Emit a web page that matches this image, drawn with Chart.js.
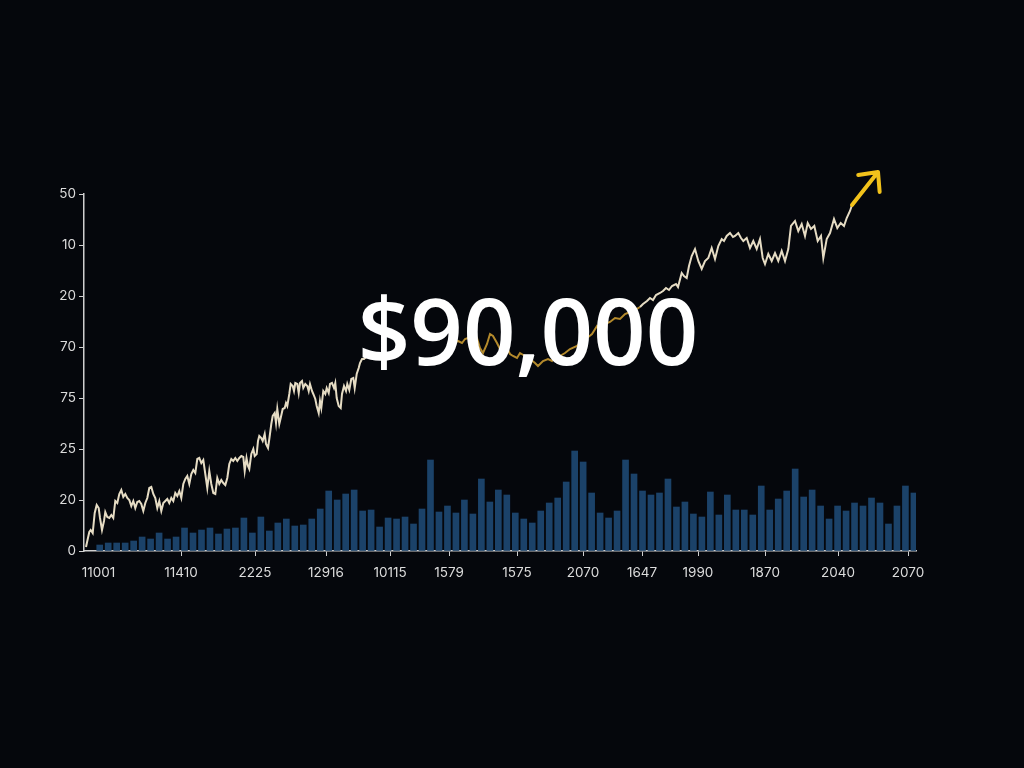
<!DOCTYPE html>
<html>
<head>
<meta charset="utf-8">
<script src="https://cdn.jsdelivr.net/npm/chart.js@4"></script>
<style>
  html, body { margin: 0; padding: 0; background: #05070c; }
  #wrap { width: 1024px; height: 768px; }
</style>
</head>
<body>
<div id="wrap"><canvas id="priceChart" width="1024" height="768"></canvas></div>
<script>
// axis labels as printed on the picture
const yTickLabels = ['0', '20', '25', '75', '70', '20', '10', '50'];
const xTickValues = [14.5, 97, 171, 242, 306, 365, 433, 499, 558, 614, 681, 754, 824];
const xTickLabels = ['11001', '11410', '2225', '12916', '10115', '1579', '1575', '2070', '1647', '1990', '1870', '2040', '2070'];

// volume bars, one per bar slot
const barValues = [
  6, 8, 8, 8, 10, 14, 12, 18, 12, 14, 23, 18, 21, 23, 17, 22, 23, 33, 18, 34,
  20, 28, 32, 25, 26, 32, 42, 60, 51, 57, 61, 40, 41, 24, 33, 32, 34, 27, 42, 91,
  39, 45, 38, 51, 37, 72, 49, 61, 56, 38, 32, 28, 40, 48, 53, 69, 100, 89, 58, 38,
  33, 40, 91, 77, 60, 56, 58, 72, 44, 49, 37, 34, 59, 36, 56, 41, 41, 36, 65, 41,
  52, 60, 82, 54, 61, 45, 32, 45, 40, 48, 45, 53, 48, 27, 45, 65, 58
];

// price line (time, price); null = hidden behind the headline
const lineX = [
  2, 3.3, 5.3, 6.7, 8.7, 10.7, 12.7, 14.7, 16, 18, 20, 21.3, 23.3, 25.3, 27.3, 29.3, 31.3, 33.3, 35.3, 37.3,
  39.3, 41.3, 43.3, 45.3, 47.3, 49.3, 51.3, 53.3, 55.3, 57.3, 59.3, 61.3, 63.3, 65.3, 67.3, 69.3, 71.3, 73.3, 75.3, 77.3,
  79.3, 81.3, 83.3, 85.3, 87.3, 89.3, 91.3, 93.3, 95.3, 97.3, 99.3, 101.3, 103.3, 105.3, 107.3, 109.3, 111.3, 113.3, 115.3, 117.3,
  119.3, 121.3, 123.3, 125.3, 127.3, 129.3, 131.3, 133.3, 135.3, 137.3, 139.3, 141.3, 143.3, 145.3, 147.3, 149.3, 151.3, 153.3, 155.3, 157.3,
  159.3, 160.7, 162.5, 164, 165.3, 167.3, 169.3, 170.7, 172.7, 174, 175.3, 177.3, 178.7, 180.7, 182, 184, 185.3, 187.3, 188.7, 190.7,
  192, 193.3, 195.3, 196.7, 198.7, 200.7, 202, 203.3, 205.3, 206.7, 208.7, 210, 211.3, 213.3, 214.7, 216, 218, 219.3, 221.3, 223.3,
  224.7, 226, 228, 229.3, 231.3, 232.7, 234.7, 236, 237.3, 239.3, 241.3, 242.7, 244.7, 246, 248, 250, 251.3, 252.7, 254.7, 256.7,
  258, 260, 262, 263.3, 265.3, 267.3, 269.3, 270.7, 272.7, 274.7, 276, 278, 280, 282, 325,
  369, 374, 378, 381, 384, 388, 391, 393, 396, 399, 403, 406, 409, 413, 416, 419, 423, 426, 429, 433,
  436, 441, 446, 451, 454, 459, 464, 468, 471, 476, 481, 486, 493, 498, 503, 508, 513, 516, 521, 526,
  531, 536, 541, 546, 551, 556, 559, 563, 566, 569, 572, 576, 579, 582, 585, 588, 592, 594, 597.7, 600,
  602.7, 605, 607.7, 611, 614.3, 617.7, 621, 624.3, 627.7, 631, 634.3, 637.7, 640, 642.7, 646, 649, 651, 654.3, 657, 659.3,
  662.7, 666, 669.3, 672.7, 676, 678.7, 681, 684.3, 687.7, 691, 694.3, 697.7, 701, 704.3, 707, 711, 714.3, 717.7, 721, 723.7,
  727, 730.3, 733.7, 737, 739.3, 742.7, 746, 750, 753.3, 756.7, 760, 762.7, 766, 768
];
const lineY = [
  4, 10, 19, 21, 18, 38, 46, 43, 33, 21, 30, 39, 34, 33, 36, 33, 50, 48, 57, 61,
  54, 57, 53, 51, 45, 50, 43, 49, 50, 47, 40, 48, 53, 63, 64, 57, 53, 43, 50, 40,
  48, 50, 52, 48, 53, 50, 58, 55, 60, 53, 67, 72, 75, 67, 77, 81, 78, 92, 93, 88,
  91, 77, 63, 80, 67, 58, 57, 73, 67, 71, 68, 66, 73, 87, 92, 90, 93, 90, 93, 95,
  94, 80, 93, 85, 82, 97, 102, 95, 97, 110, 115, 113, 110, 117, 107, 103, 112, 127, 135, 138,
  128, 142, 127, 133, 142, 143, 148, 145, 157, 167, 165, 160, 168, 167, 158, 168, 170, 163, 167, 165,
  160, 167, 160, 157, 152, 145, 138, 150, 143, 160, 157, 163, 158, 167, 168, 163, 168, 153, 145, 143,
  157, 165, 160, 167, 161, 172, 173, 163, 177, 183, 188, 192, 192, 194, null,
  207, 210, 208, 212, 213, 208, 217, 213, 203, 198, 207, 217, 215, 208, 202, 210, 203, 197, 195, 193,
  198, 195, 192, 188, 185, 190, 192, 190, 195, 195, 198, 202, 205, 210, 213, 217, 225, 221, 227, 229,
  233, 232, 237, 239, 241, 244, 247, 250, 253, 251, 256, 258, 260, 263, 261, 265, 267, 264, 278, 275,
  273, 285, 295, 302, 290, 282, 290, 293, 303, 292, 305, 312, 310, 315, 318, 314, 315, 318, 313, 310,
  313, 303, 310, 302, 312, 293, 287, 297, 290, 298, 290, 300, 290, 302, 325, 330, 320, 327, 315, 328,
  322, 325, 310, 315, 293, 312, 318, 332, 323, 328, 325, 333, 340, 346
];

// the part of the line that runs behind the headline is drawn in amber
const amberFrom = 360;
const amberTo = 557;

const headlinePlugin = {
  id: 'headline',
  afterDatasetsDraw(chart) {
    const c = chart.ctx;
    const meta = chart.getDatasetMeta(0);
    const last = meta.data[meta.data.length - 1];
    // arrow continuing the trend
    const x0 = last.x, y0 = last.y;
    const x1 = x0 + 26, y1 = y0 - 33;
    const ang = Math.atan2(y1 - y0, x1 - x0);
    c.save();
    c.strokeStyle = '#f2c21b';
    c.lineWidth = 4;
    c.lineCap = 'round';
    c.lineJoin = 'round';
    c.beginPath();
    c.moveTo(x0, y0);
    c.lineTo(x1, y1);
    c.moveTo(x1 + 20 * Math.cos(ang + Math.PI - 0.75), y1 + 20 * Math.sin(ang + Math.PI - 0.75));
    c.lineTo(x1, y1);
    c.lineTo(x1 + 20 * Math.cos(ang + Math.PI + 0.75), y1 + 20 * Math.sin(ang + Math.PI + 0.75));
    c.stroke();
    // big price
    c.fillStyle = '#ffffff';
    c.font = '600 92px "Open Sans", sans-serif';
    c.textAlign = 'center';
    c.textBaseline = 'alphabetic';
    c.fillText('$90,000', 528, 365);
    c.restore();
  }
};

const axisColor = '#cfcfcf';
const labelFont = { family: 'Inter, "DejaVu Sans", sans-serif', size: 13.5 };

const ctx = document.getElementById('priceChart').getContext('2d');
const chart = new Chart(ctx, {
  type: 'bar',
  data: {
    datasets: [{
      type: 'line',
      data: lineX.map((x, i) => ({ x: x, y: lineY[i] })),
      xAxisID: 'x',
      yAxisID: 'y',
      borderColor: '#e6dcc4',
      borderWidth: 2,
      pointRadius: 0,
      tension: 0,
      spanGaps: false,
      order: 1,
      segment: {
        borderColor: s => (s.p0.parsed.x >= amberFrom && s.p1.parsed.x <= amberTo) ? '#b48a2c' : undefined
      }
    }, {
      type: 'bar',
      data: barValues.map((v, i) => ({ x: i, y: v })),
      xAxisID: 'xb',
      yAxisID: 'y',
      backgroundColor: '#1b4269',
      barThickness: 6,
      order: 2
    }]
  },
  options: {
    responsive: false,
    animation: false,
    layout: { padding: { top: 194, right: 108, left: 0, bottom: 0 } },
    plugins: {
      legend: { display: false },
      tooltip: { enabled: false }
    },
    scales: {
      x: {
        type: 'linear',
        position: 'bottom',
        offset: false,
        min: 0,
        max: 832,
        grid: {
          offset: false,
          drawOnChartArea: false,
          tickLength: 5,
          tickColor: c => c.index === 0 ? 'rgba(0,0,0,0)' : axisColor
        },
        border: { color: axisColor, width: 1.5 },
        ticks: {
          color: '#dcdcdc',
          font: labelFont,
          autoSkip: false,
          maxRotation: 0,
          padding: 9,
          callback: (v, i) => xTickLabels[i]
        },
        afterBuildTicks: s => { s.ticks = xTickValues.map(v => ({ value: v })); },
        afterFit: s => { s.height = 217; }
      },
      xb: {
        type: 'linear',
        display: false,
        offset: false,
        min: -1.5,
        max: 96.6
      },
      y: {
        min: 0,
        max: 357,
        grid: {
          drawOnChartArea: false,
          tickLength: 5,
          tickColor: axisColor
        },
        border: { color: axisColor, width: 1.5 },
        ticks: {
          stepSize: 51,
          color: '#dcdcdc',
          font: labelFont,
          padding: 3,
          callback: (v, i) => yTickLabels[i]
        },
        afterFit: s => { s.width = 84; }
      }
    }
  },
  plugins: [headlinePlugin]
});
</script>
</body>
</html>
